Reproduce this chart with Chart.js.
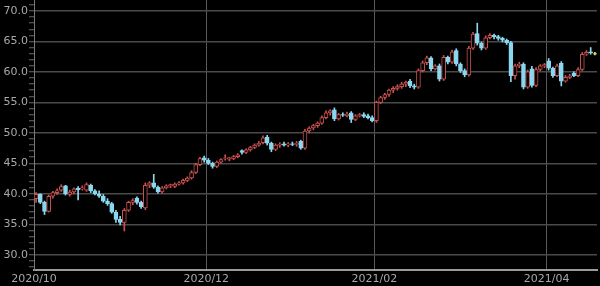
<!DOCTYPE html>
<html lang="ja">
<head>
    <meta charset="UTF-8">
    <title>Candlestick</title>
    <style>
        body {
            margin: 0;
            padding: 0;
            background-color: #000;
        }
        #wrap {
            width: 600px;
            height: 286px;
        }
    </style>
</head>
<body>

<div id="wrap">
    <canvas id="chart" width="600" height="286"></canvas>
</div>

<script src="https://cdn.jsdelivr.net/npm/chart.js"></script>
<script>
    // daily candles, 2020/10/01 .. 2021/04 (trading days)
    const opens = [
        39.2, 39.9, 38.6, 37.1, 39.6, 40.2, 40.6, 41.3, 39.9, 40.3, 40.9, 40.8, 40.6, 41.4, 40.5, 40.0, 39.6, 38.8, 38.4, 37.0, 35.8, 35.3,
        37.3, 38.6, 39.3, 38.6, 37.7, 41.4, 41.8, 41.1, 40.3, 41.0, 41.3, 41.2, 41.6, 41.8, 42.2, 42.6, 43.5, 44.8, 45.9,
        45.5, 45.0, 44.5, 45.2, 45.8, 45.7, 45.8, 46.1, 47.1, 46.8, 47.2, 47.6, 48.0, 48.4, 49.3, 48.3, 47.3, 48.0, 48.2, 48.0, 48.2,
        48.1, 48.6, 47.5, 50.3, 50.8, 51.2, 51.6, 52.5, 53.3, 53.8, 52.3, 53.0, 52.8, 53.3, 52.2, 52.8, 53.0, 52.8, 52.5,
        52.0, 55.0, 55.8, 56.3, 57.0, 57.3, 57.6, 58.0, 58.5, 57.7, 57.5, 60.2, 61.5, 62.3, 60.5, 61.0, 58.8, 62.4,
        61.6, 63.5, 61.3, 60.2, 59.5, 63.9, 66.3, 64.7, 63.9, 65.6, 66.0, 65.8, 65.5, 65.2, 64.8, 59.4, 61.0, 61.3, 57.5, 60.5, 57.8, 60.4, 61.0,
        61.8, 60.6, 59.4, 61.4, 58.5, 59.1, 59.8, 59.4, 60.4, 62.9, 63.3, 63.0
    ];
    const highs = [
        40.2, 40.0, 38.8, 39.8, 40.4, 40.8, 41.5, 41.4, 40.6, 41.0, 41.2, 41.3, 41.8, 41.6, 40.7, 40.5, 39.9, 39.2, 38.6, 37.3, 36.3, 37.6,
        38.8, 39.2, 39.5, 38.8, 41.8, 42.0, 43.2, 41.3, 41.2, 41.5, 41.6, 41.8, 42.0, 42.4, 42.8, 43.8, 45.0, 46.0, 46.2,
        45.8, 45.2, 45.4, 45.8, 46.4, 46.0, 46.3, 46.6, 47.2, 47.4, 47.8, 48.2, 48.6, 49.5, 49.6, 48.5, 48.2, 48.4, 48.5, 48.4, 48.5,
        48.6, 48.8, 50.6, 51.0, 51.4, 51.8, 52.8, 53.6, 53.8, 54.1, 53.2, 53.3, 53.4, 53.5, 53.0, 53.2, 53.3, 53.1, 52.8,
        55.2, 56.0, 56.5, 57.2, 57.6, 57.9, 58.3, 58.5, 58.8, 58.0, 60.5, 61.8, 62.6, 62.5, 61.2, 61.3, 62.7, 62.6,
        63.6, 63.8, 61.5, 60.5, 64.2, 66.5, 68.0, 64.9, 65.9, 66.3, 66.2, 66.0, 65.7, 65.4, 65.0, 61.3, 61.6, 61.5, 60.3, 60.9, 60.7, 61.2, 61.4,
        62.2, 60.8, 61.3, 61.7, 59.4, 59.6, 60.0, 60.7, 63.2, 63.5, 64.0, 63.2
    ];
    const lows = [
        38.6, 38.4, 36.6, 37.0, 39.3, 39.9, 40.4, 39.8, 39.6, 40.0, 39.0, 40.6, 40.4, 40.2, 39.8, 39.4, 38.6, 38.1, 36.8, 35.3, 34.9, 33.9,
        37.1, 38.2, 38.3, 37.6, 37.4, 41.0, 40.9, 40.1, 40.1, 40.8, 41.0, 41.0, 41.4, 41.6, 42.0, 42.4, 43.3, 44.6, 45.2,
        44.8, 44.2, 44.3, 45.0, 45.5, 45.4, 45.6, 45.9, 46.5, 46.6, 47.0, 47.4, 47.8, 48.2, 48.0, 46.9, 47.1, 47.6, 47.8, 47.7, 47.9,
        47.8, 47.3, 47.3, 50.0, 50.5, 50.9, 51.4, 52.3, 52.9, 52.0, 52.1, 52.7, 52.6, 51.7, 52.0, 52.6, 52.5, 52.3, 51.8,
        51.7, 54.8, 55.5, 56.0, 56.6, 57.0, 57.3, 57.6, 57.4, 57.2, 57.3, 60.0, 61.2, 60.2, 60.3, 58.5, 58.6, 61.3,
        61.4, 61.0, 59.9, 59.2, 59.3, 63.7, 64.4, 63.6, 63.7, 65.4, 65.4, 65.2, 64.9, 64.5, 58.4, 58.8, 60.7, 57.2, 57.3, 57.5, 57.6, 60.2, 60.7,
        60.3, 59.1, 59.2, 57.7, 58.3, 58.9, 59.2, 59.2, 60.2, 62.7, 62.9, 62.8
    ];
    const closes = [
        39.9, 38.6, 37.1, 39.6, 40.2, 40.5, 41.2, 40.0, 40.3, 40.8, 40.7, 41.0, 41.5, 40.5, 40.0, 39.6, 38.8, 38.4, 37.0, 35.8, 35.3, 37.3,
        38.6, 38.9, 38.6, 37.9, 41.4, 41.8, 41.1, 40.3, 41.0, 41.3, 41.5, 41.6, 41.8, 42.2, 42.6, 43.5, 44.8, 45.8, 45.5,
        45.0, 44.5, 45.2, 45.6, 45.9, 45.9, 46.1, 46.4, 46.8, 47.2, 47.6, 48.0, 48.3, 49.2, 48.3, 47.3, 48.0, 48.1, 48.0, 48.2, 48.1,
        48.3, 47.5, 50.3, 50.8, 51.2, 51.6, 52.5, 53.3, 53.6, 52.3, 53.0, 52.9, 53.1, 52.2, 52.8, 53.0, 52.7, 52.5, 52.0,
        55.0, 55.8, 56.3, 57.0, 57.3, 57.6, 58.0, 58.3, 57.7, 57.5, 60.2, 61.5, 62.3, 60.5, 61.0, 58.8, 62.4, 61.6,
        63.3, 61.3, 60.2, 59.5, 63.9, 66.2, 64.7, 63.9, 65.6, 66.0, 65.8, 65.5, 65.2, 64.8, 59.4, 61.0, 61.3, 57.5, 60.0, 57.8, 60.4, 61.0, 61.2,
        60.6, 59.4, 61.0, 58.5, 59.1, 59.3, 59.4, 60.4, 62.9, 63.2, 63.1, 62.9
    ];

    const monthStarts = [0, 41, 81, 122];
    const monthLabels = ['2020/10', '2020/12', '2021/02', '2021/04'];

    const UP = '#c9514f';
    const DOWN = '#8ad8ef';
    const LAST = '#e8e070';

    const colorOf = i => {
        if (i === closes.length - 1) return LAST;
        return closes[i] >= opens[i] ? UP : DOWN;
    };

    const wickData = highs.map((h, i) => ({ x: i + 0.5, y: [lows[i], h] }));
    const bodyData = opens.map((o, i) => {
        let c = closes[i];
        if (Math.abs(c - o) < 0.1) c = o + 0.1;
        return { x: i + 0.5, y: [o, c] };
    });

    const tickFont = { family: 'DejaVu Sans', size: 11 };

    new Chart(document.getElementById('chart'), {
        type: 'bar',
        data: {
            datasets: [
                {
                    data: bodyData,
                    order: 0,
                    grouped: false,
                    barThickness: 4,
                    borderWidth: 1,
                    borderSkipped: false,
                    borderColor: ctx => colorOf(ctx.dataIndex),
                    backgroundColor: ctx => {
                        const i = ctx.dataIndex;
                        return (closes[i] >= opens[i] && i !== closes.length - 1) ? '#000' : colorOf(i);
                    }
                },
                {
                    data: wickData,
                    order: 1,
                    grouped: false,
                    barThickness: 1,
                    borderWidth: 0,
                    backgroundColor: ctx => colorOf(ctx.dataIndex)
                }
            ]
        },
        options: {
            responsive: false,
            animation: false,
            layout: { padding: { top: 0, right: 3, left: 0, bottom: 0 } },
            plugins: {
                legend: { display: false },
                tooltip: { enabled: false }
            },
            scales: {
                x: {
                    type: 'linear',
                    min: 0,
                    max: 134,
                    offset: false,
                    afterBuildTicks: axis => {
                        axis.ticks = monthStarts.map(v => ({ value: v }));
                    },
                    afterFit: axis => { axis.height = 16; },
                    ticks: {
                        color: '#a8a8a8',
                        font: tickFont,
                        padding: 3,
                        maxRotation: 0,
                        autoSkip: false,
                        callback: value => monthLabels[monthStarts.indexOf(value)] || ''
                    },
                    grid: {
                        offset: false,
                        color: '#5a5a5a',
                        lineWidth: 1,
                        drawTicks: false
                    },
                    border: { color: '#9a9a9a', width: 2 }
                },
                y: {
                    min: 27.5,
                    max: 71.8,
                    afterBuildTicks: axis => {
                        const t = [];
                        for (let v = 28; v <= 71; v++) t.push({ value: v });
                        axis.ticks = t;
                    },
                    afterFit: axis => {
                        axis.width = 34;
                        axis.paddingTop = 0;
                        axis.paddingBottom = 0;
                    },
                    ticks: {
                        color: '#a8a8a8',
                        font: tickFont,
                        padding: 1,
                        autoSkip: false,
                        callback: value => value % 5 === 0 ? value.toFixed(1) : ''
                    },
                    grid: {
                        color: ctx => ctx.tick && ctx.tick.value % 5 === 0 ? '#4a4a4a' : 'rgba(0,0,0,0)',
                        lineWidth: 1.5,
                        tickColor: '#6a6a6a',
                        tickLength: 5,
                        tickWidth: 1
                    },
                    border: { color: '#7a7a7a', width: 1 }
                }
            }
        }
    });
</script>

</body>
</html>
